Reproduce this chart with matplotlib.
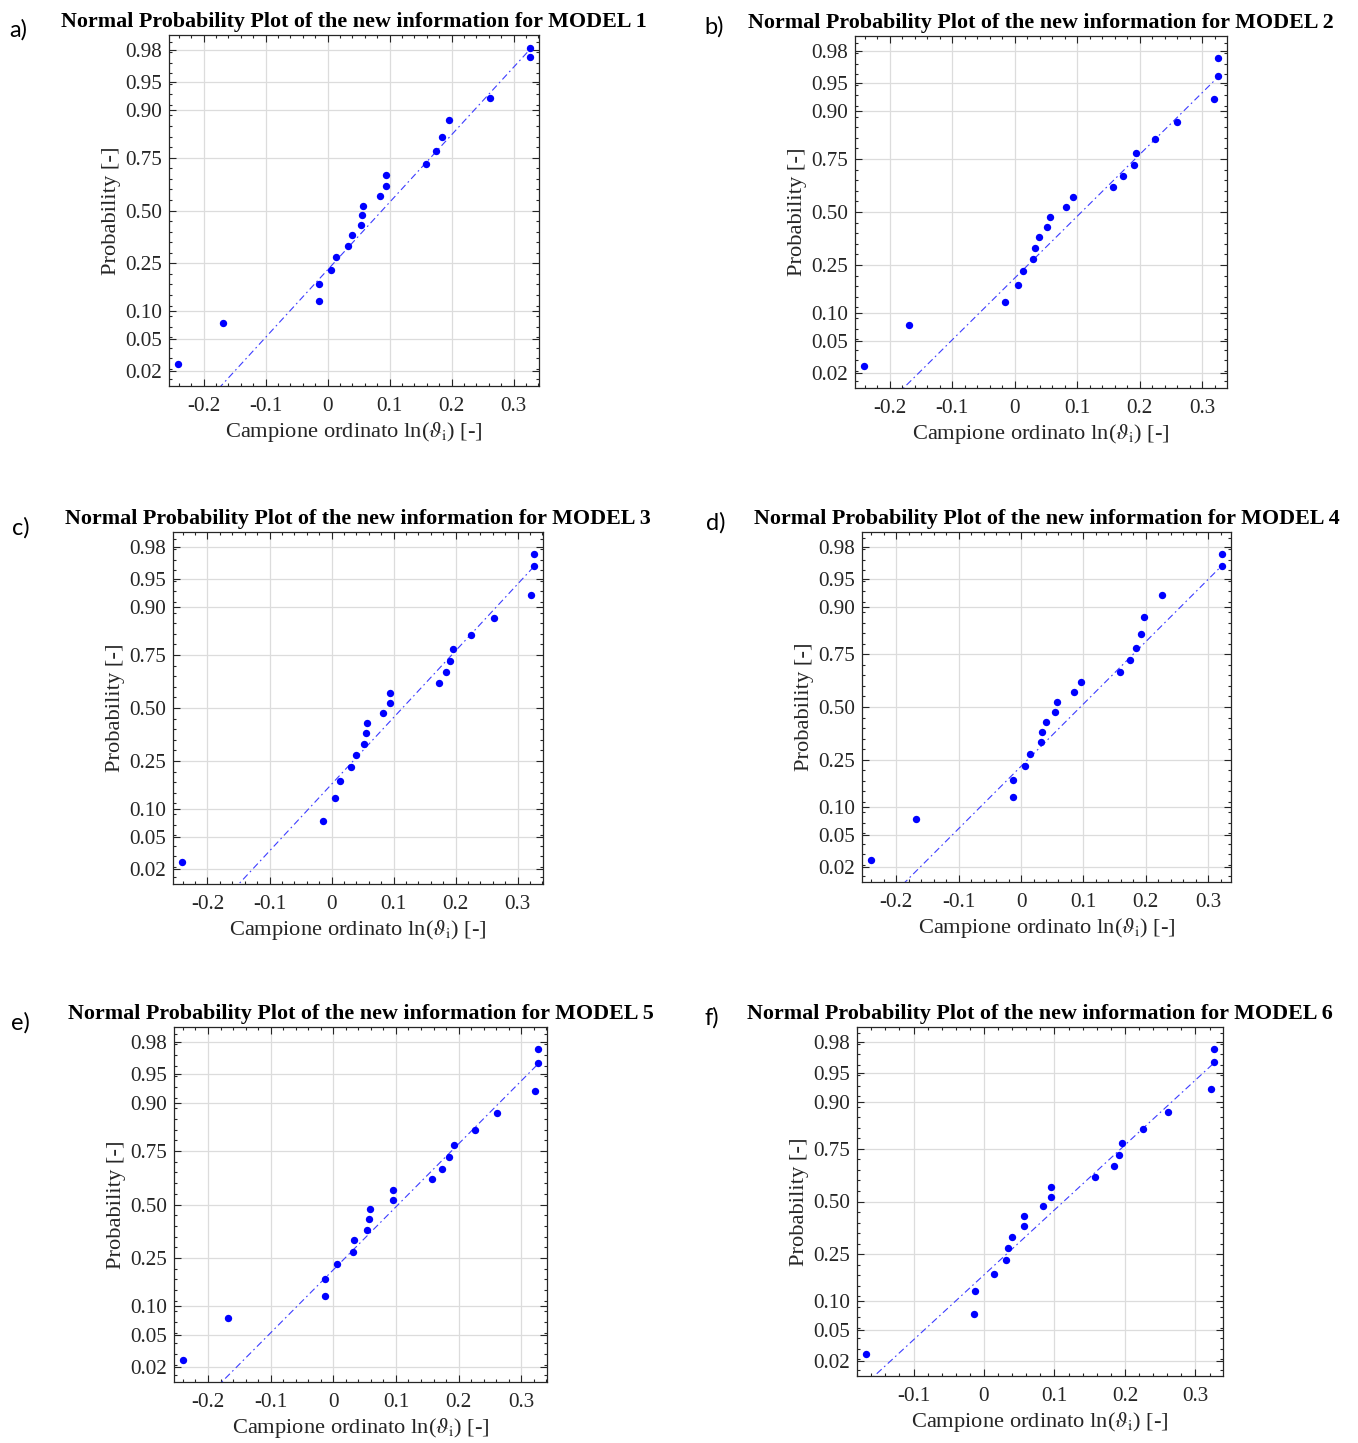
from statistics import NormalDist

import matplotlib

matplotlib.use("Agg")
import matplotlib.pyplot as plt
import numpy as np
from matplotlib.ticker import FixedLocator, FuncFormatter, MultipleLocator

plt.rcParams["font.family"] = ["Liberation Serif", "DejaVu Serif"]
plt.rcParams["mathtext.fontset"] = "stix"
plt.rcParams["axes.unicode_minus"] = False

# ordered samples ln(theta_i), one per model (20 values each)
MODEL_1 = [-0.2415, -0.1687, -0.0140, -0.0140, 0.0054, 0.0140, 0.0329, 0.0399, 0.0534, 0.0560,
           0.0571, 0.0841, 0.0943, 0.0943, 0.1580, 0.1741, 0.1838, 0.1957, 0.2615, 0.3267]
MODEL_2 = [-0.2412, -0.1684, -0.0150, 0.0048, 0.0134, 0.0294, 0.0321, 0.0385, 0.0519, 0.0567,
           0.0829, 0.0941, 0.1567, 0.1727, 0.1909, 0.1947, 0.2241, 0.2604, 0.3198, 0.3257]
MODEL_3 = [-0.2414, -0.0134, 0.0059, 0.0134, 0.0306, 0.0392, 0.0526, 0.0558, 0.0569, 0.0837,
           0.0944, 0.0944, 0.1738, 0.1840, 0.1915, 0.1958, 0.2253, 0.2618, 0.3214, 0.3267]
MODEL_4 = [-0.2407, -0.1681, -0.0133, -0.0128, 0.0064, 0.0149, 0.0315, 0.0342, 0.0406, 0.0539,
           0.0571, 0.0848, 0.0955, 0.1585, 0.1745, 0.1846, 0.1926, 0.1969, 0.2263, 0.3223]
MODEL_5 = [-0.2401, -0.1677, -0.0133, -0.0128, 0.0064, 0.0314, 0.0335, 0.0532, 0.0564, 0.0580,
           0.0953, 0.0953, 0.1581, 0.1741, 0.1848, 0.1922, 0.2258, 0.2620, 0.3216, 0.3269]
MODEL_6 = [-0.1678, -0.0142, -0.0132, 0.0147, 0.0307, 0.0336, 0.0397, 0.0563, 0.0572, 0.0842,
           0.0950, 0.0950, 0.1574, 0.1839, 0.1920, 0.1957, 0.2251, 0.2610, 0.3215, 0.3267]

# plotting positions of the ordered samples
PROBS = [0.025, 0.075, 0.125, 0.175, 0.225, 0.275, 0.325, 0.375, 0.425, 0.475,
         0.525, 0.575, 0.625, 0.675, 0.725, 0.775, 0.825, 0.875, 0.925, 0.975]

# one additional point near the top of every panel
EXTRA_X = [0.3267, 0.3257, 0.3267, 0.3223, 0.3269, 0.3267]
EXTRA_P = [0.981, 0.958, 0.965, 0.965, 0.963, 0.963]

TICK_PROBS = [0.02, 0.05, 0.10, 0.25, 0.50, 0.75, 0.90, 0.95, 0.98]
PANEL_LABELS = ["a)", "b)", "c)", "d)", "e)", "f)"]

# axes boxes in figure pixels: left, top, right, bottom
BOXES = [
    (169, 35, 539, 386),
    (855, 36, 1227, 388),
    (173, 532, 543, 884),
    (862, 532, 1231, 882),
    (174, 1027, 547, 1382),
    (857, 1027, 1223, 1376),
]
LABEL_POS = [(18, 30), (714, 27), (21, 528), (716, 523), (20, 1023), (712, 1018)]

W, H = 1358, 1443
z = NormalDist().inv_cdf


def normplot(ax, sample, extra_x, extra_p, title):
    x = np.asarray(sample)
    zp = np.array([z(p) for p in PROBS])
    q1, q3 = np.percentile(x, [25, 75], method="hazen")
    slope = (z(0.75) - z(0.25)) / (q3 - q1)
    all_x = np.append(x, extra_x)
    xs = np.array([all_x.min(), all_x.max()])
    ax.plot(xs, z(0.25) + slope * (xs - q1), color="#3c3cff", lw=0.8,
            linestyle=(0, (6, 3, 1.5, 3)), zorder=2)
    ax.plot(x, zp, "o", color="#0000ff", ms=5.3, mec="none", zorder=3)
    ax.plot([extra_x], [z(extra_p)], "o", color="#0000ff", ms=5.3, mec="none", zorder=3)

    span = all_x.max() - all_x.min()
    ax.set_xlim(all_x.min() - 0.025 * span, all_x.max() + 0.025 * span)
    lim = -z(0.25 / len(x))
    ax.set_ylim(-lim, lim)

    ax.yaxis.set_major_locator(FixedLocator([z(p) for p in TICK_PROBS]))
    ax.yaxis.set_major_formatter(FuncFormatter(lambda v, pos: f"{TICK_PROBS[pos]:.2f}"))
    ax.yaxis.set_minor_locator(MultipleLocator(z(0.75) / 5))
    ax.xaxis.set_major_locator(MultipleLocator(0.1))
    ax.xaxis.set_minor_locator(MultipleLocator(0.02))
    ax.xaxis.set_major_formatter(FuncFormatter(lambda v, pos: f"{round(v, 2):g}"))

    ax.grid(True, which="major", color="#dcdcdc", lw=0.9)
    ax.set_axisbelow(True)
    ax.tick_params(which="both", direction="in", top=True, right=True,
                   labelsize=15.2, colors="#262626", width=0.8)
    ax.tick_params(which="major", length=5)
    ax.tick_params(which="minor", length=2.5)
    ax.tick_params(axis="x", which="both", pad=8)
    ax.tick_params(axis="y", which="both", pad=5)
    for spine in ax.spines.values():
        spine.set_color("#262626")
        spine.set_linewidth(0.9)

    ax.set_xlabel(r"Campione ordinato ln($\vartheta_{\rm i}$) [-]", fontsize=16.2,
                  color="#262626", labelpad=3)
    ax.set_ylabel("Probability [-]", fontsize=16.2, color="#262626", labelpad=3)
    ax.set_title(title, fontsize=15.8, fontweight="bold", pad=6)


fig = plt.figure(figsize=(W / 100, H / 100), dpi=100)
models = [MODEL_1, MODEL_2, MODEL_3, MODEL_4, MODEL_5, MODEL_6]
for i, sample in enumerate(models):
    left, top, right, bottom = BOXES[i]
    ax = fig.add_axes([left / W, 1 - bottom / H, (right - left) / W, (bottom - top) / H])
    normplot(ax, sample, EXTRA_X[i], EXTRA_P[i],
             f"Normal Probability Plot of the new information for MODEL {i + 1}")
    lx, ly = LABEL_POS[i]
    fig.text(lx / W, 1 - ly / H, PANEL_LABELS[i], fontsize=17, family="Lato",
             ha="center", va="center")

fig.savefig("out.png", dpi=100)
